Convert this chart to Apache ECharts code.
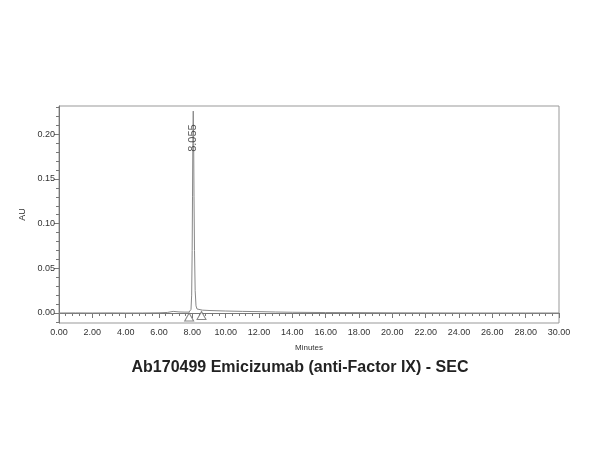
<!DOCTYPE html>
<html lang="en">
<head>
<meta charset="UTF-8">
<title>Ab170499 Emicizumab SEC</title>
<script src="https://cdn.jsdelivr.net/npm/echarts/dist/echarts.min.js"></script>
<style>
    body { margin: 0; background: #fff; }
    #chart { width: 600px; height: 450px; }
</style>
</head>
<body>

<div id="chart"></div>

<script>
// chromatogram trace (minutes, AU)
var times = [0, 1, 2, 3, 4, 5, 6, 6.5, 6.85, 7.2, 7.5, 7.8, 7.85, 7.92, 7.96, 7.99, 8.01, 8.03, 8.055,
             8.08, 8.10, 8.13, 8.17, 8.22, 8.28, 8.4, 8.6, 9, 10, 11, 12, 13, 14, 16, 18, 20, 22, 24, 26, 28, 30];
var values = [0.0000, 0.0001, 0.0000, 0.0001, 0.0000, 0.0000, 0.0002, 0.0006, 0.0018, 0.0012, 0.0010, 0.0010, 0.0012, 0.004, 0.02, 0.07, 0.13, 0.19, 0.226,
              0.19, 0.13, 0.07, 0.025, 0.008, 0.0045, 0.0035, 0.0032, 0.0028, 0.0022, 0.0018, 0.0015, 0.0011, 0.0008, 0.0005, 0.0004, 0.0002, 0.0001, 0.0000, 0.0000, 0.0000, 0.0000];

// peak annotation and integration markers
var peakTime = 8.055;
var peakLabel = '8.055';
var peakLabelValue = 0.198;
var markerTimes = [7.81, 8.55];
var markerValues = [-0.0045, -0.0028];

// axes
var xTickLabels = ['0.00', '2.00', '4.00', '6.00', '8.00', '10.00', '12.00', '14.00', '16.00',
                   '18.00', '20.00', '22.00', '24.00', '26.00', '28.00', '30.00'];
var yMajorTicks = [0.00, 0.05, 0.10, 0.15, 0.20];
var yMinorTicks = [-0.01, 0.00, 0.01, 0.02, 0.03, 0.04, 0.05, 0.06, 0.07, 0.08, 0.09, 0.10, 0.11,
                   0.12, 0.13, 0.14, 0.15, 0.16, 0.17, 0.18, 0.19, 0.20, 0.21, 0.22, 0.23];
var yMin = -0.0112;
var yMax = 0.2317;

var chartDom = document.getElementById('chart');
var myChart = echarts.init(chartDom);
var option;

var trace = times.map(function (t, i) { return [t, values[i]]; });
var markers = markerTimes.map(function (t, i) { return [t, markerValues[i]]; });

var axisColor = '#777';
var labelStyle = { color: '#333', fontSize: 9, fontFamily: 'Arial, Liberation Sans, sans-serif' };

option = {
    animation: false,
    backgroundColor: '#fff',
    title: {
        text: 'Ab170499 Emicizumab (anti-Factor IX) - SEC',
        left: 'center',
        top: 355,
        textStyle: {
            fontFamily: 'Arial, Liberation Sans, sans-serif',
            fontWeight: 'bold',
            fontSize: 16,
            color: '#222'
        }
    },
    grid: {
        left: 59,
        right: 41,
        top: 106,
        bottom: 127,
        show: true,
        borderColor: '#999',
        borderWidth: 1
    },
    xAxis: {
        type: 'value',
        min: 0,
        max: 30,
        interval: 2,
        name: 'Minutes',
        nameLocation: 'middle',
        nameGap: 21,
        nameTextStyle: { color: '#333', fontSize: 8, fontFamily: 'Arial, Liberation Sans, sans-serif' },
        axisLine: { lineStyle: { color: axisColor } },
        axisTick: { length: 5, lineStyle: { color: axisColor } },
        minorTick: { show: true, splitNumber: 5, length: 3, lineStyle: { color: axisColor } },
        splitLine: { show: false },
        axisLabel: Object.assign({
            margin: 5,
            formatter: function (v) { return xTickLabels[Math.round(v / 2)]; }
        }, labelStyle)
    },
    yAxis: [
        {
            type: 'value',
            min: yMin,
            max: yMax,
            name: 'AU',
            nameLocation: 'middle',
            nameGap: 27,
            nameRotate: 90,
            nameTextStyle: { color: '#333', fontSize: 9, fontFamily: 'Arial, Liberation Sans, sans-serif' },
            axisLine: { show: true, lineStyle: { color: axisColor } },
            axisTick: { show: true, length: 5, customValues: yMajorTicks, lineStyle: { color: axisColor } },
            splitLine: { show: false },
            axisLabel: Object.assign({
                margin: 4,
                customValues: yMajorTicks,
                formatter: function (v) { return v.toFixed(2); }
            }, labelStyle)
        },
        {
            type: 'value',
            min: yMin,
            max: yMax,
            position: 'left',
            axisLine: { show: false },
            axisTick: { show: true, length: 3, customValues: yMinorTicks, lineStyle: { color: axisColor } },
            axisLabel: { show: false },
            splitLine: { show: false }
        }
    ],
    series: [
        {
            type: 'line',
            data: trace,
            showSymbol: false,
            lineStyle: { color: '#888', width: 1 },
            z: 3
        },
        {
            type: 'scatter',
            data: markers,
            symbol: 'triangle',
            symbolSize: [9, 8],
            itemStyle: { color: '#fff', borderColor: '#666', borderWidth: 1 },
            z: 4
        },
        {
            type: 'scatter',
            data: [[peakTime, peakLabelValue]],
            symbolSize: 0,
            label: {
                show: true,
                position: 'inside',
                rotate: 90,
                offset: [-2, 0],
                formatter: peakLabel,
                color: '#333',
                fontSize: 11,
                fontFamily: 'Arial, Liberation Sans, sans-serif'
            },
            z: 5
        }
    ]
};

myChart.setOption(option);
</script>

</body>
</html>
